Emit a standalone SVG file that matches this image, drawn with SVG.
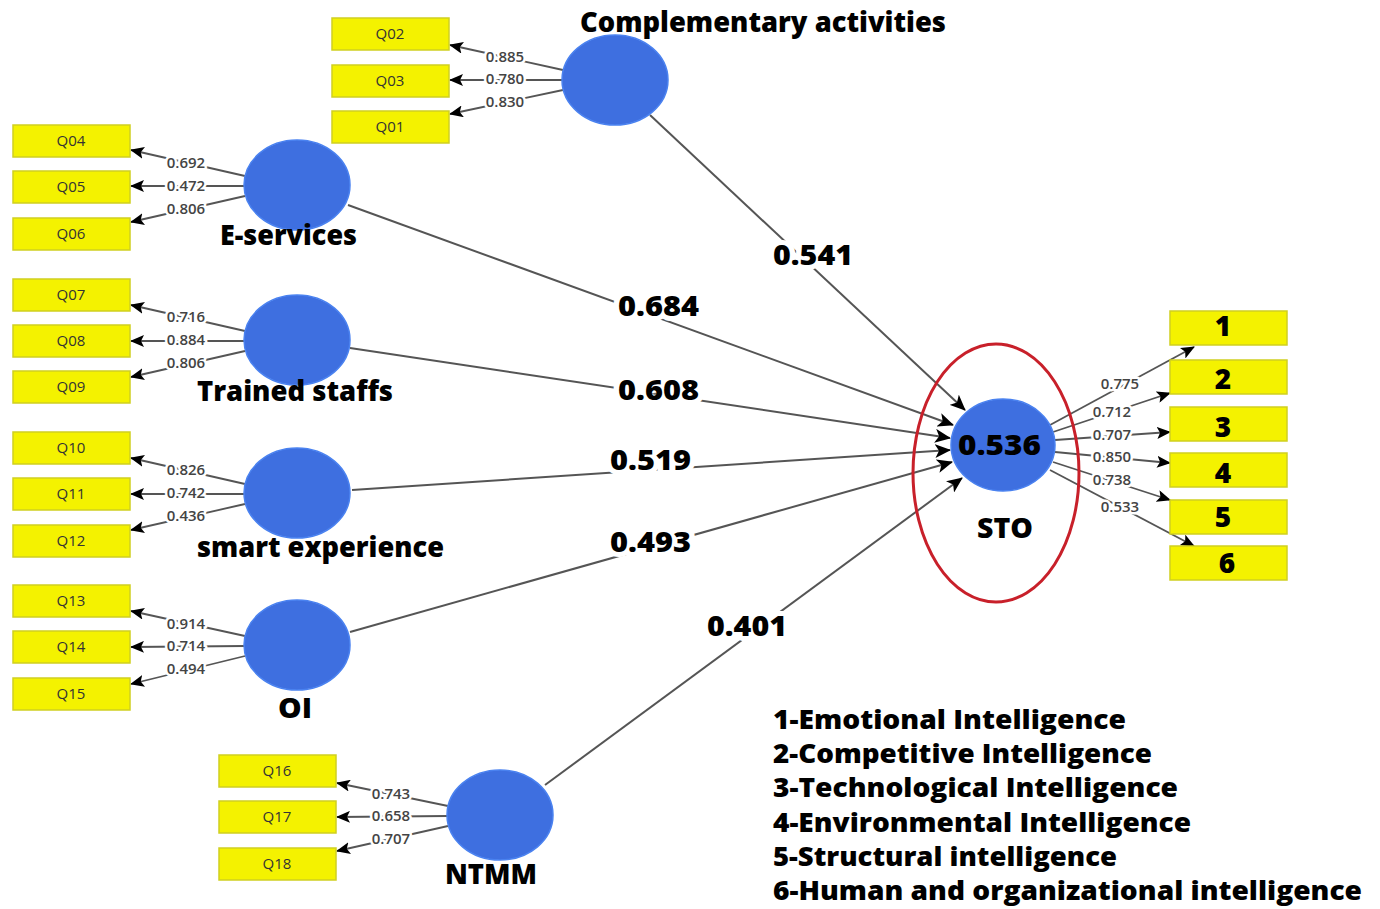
<svg xmlns="http://www.w3.org/2000/svg" width="1380" height="909" viewBox="0 0 1380 909">
<defs>
<marker id="ah" markerWidth="16" markerHeight="14" refX="15" refY="7" orient="auto" markerUnits="userSpaceOnUse">
<path d="M0,0 L16,7 L0,14 L4,7 Z" fill="#000"/>
</marker>
<marker id="sa" markerWidth="14" markerHeight="12" refX="13" refY="6" orient="auto" markerUnits="userSpaceOnUse">
<path d="M0,0 L14,6 L0,12 L3,6 Z" fill="#000"/>
</marker>
</defs>
<style>
.box{fill:#f4f200;stroke:#cfcf20;stroke-width:1.5}
.bl{font-family:"Open Sans","DejaVu Sans",sans-serif;font-size:15px;fill:#333;text-anchor:middle}
.lv{fill:#3e6fe0;stroke:#4a82f0;stroke-width:1.5}
.ld{stroke:#555;stroke-width:1.8;fill:none;marker-end:url(#sa)}
.pl{stroke:#555;stroke-width:2;fill:none;marker-end:url(#ah)}
.lt{font-family:"Open Sans","DejaVu Sans",sans-serif;font-size:15px;font-weight:600;fill:#444;text-anchor:middle;stroke:#fff;stroke-width:5;paint-order:stroke;stroke-linejoin:round}
.big{font-family:"Open Sans","DejaVu Sans",sans-serif;font-weight:800;font-size:28px;fill:#000}
.leg{font-family:"Open Sans","DejaVu Sans",sans-serif;font-weight:800;font-size:26px;fill:#000}
.pv{font-family:"Open Sans","DejaVu Sans",sans-serif;font-weight:800;font-size:28px;fill:#000;stroke:#fff;stroke-width:10;paint-order:stroke;stroke-linejoin:round}
.num{font-family:"Open Sans","DejaVu Sans",sans-serif;font-weight:800;font-size:28px;fill:#000;text-anchor:middle}
</style>
<rect width="1380" height="909" fill="#fff"/>

<g id="connectors">
<line class="pl" x1="650" y1="115" x2="965" y2="410"/>
<line class="pl" x1="348" y1="205" x2="953" y2="425"/>
<line class="pl" x1="350" y1="348" x2="950" y2="438"/>
<line class="pl" x1="352" y1="490" x2="950" y2="450"/>
<line class="pl" x1="350" y1="632" x2="952" y2="462"/>
<line class="pl" x1="545" y1="785" x2="962" y2="478"/>
<line class="ld" x1="563" y1="70" x2="450" y2="45"/>
<line class="ld" x1="563" y1="80" x2="450" y2="80"/>
<line class="ld" x1="563" y1="90" x2="450" y2="114"/>
<line class="ld" x1="245" y1="176" x2="131" y2="150"/>
<line class="ld" x1="245" y1="186" x2="131" y2="186"/>
<line class="ld" x1="245" y1="196" x2="131" y2="222"/>
<line class="ld" x1="245" y1="331" x2="131" y2="305"/>
<line class="ld" x1="245" y1="341" x2="131" y2="341"/>
<line class="ld" x1="245" y1="351" x2="131" y2="377"/>
<line class="ld" x1="245" y1="484" x2="131" y2="458"/>
<line class="ld" x1="245" y1="494" x2="131" y2="494"/>
<line class="ld" x1="245" y1="504" x2="131" y2="530"/>
<line class="ld" x1="245" y1="636" x2="131" y2="611"/>
<line class="ld" x1="245" y1="646" x2="131" y2="647"/>
<line class="ld" x1="245" y1="656" x2="131" y2="684"/>
<line class="ld" x1="448" y1="806" x2="337" y2="783"/>
<line class="ld" x1="448" y1="816" x2="337" y2="817"/>
<line class="ld" x1="448" y1="826" x2="337" y2="851"/>
<line class="ld" x1="1050" y1="425" x2="1194" y2="347"/>
<line class="ld" x1="1053" y1="432" x2="1170" y2="393"/>
<line class="ld" x1="1055" y1="440" x2="1170" y2="432"/>
<line class="ld" x1="1055" y1="452" x2="1170" y2="463"/>
<line class="ld" x1="1053" y1="462" x2="1170" y2="500"/>
<line class="ld" x1="1050" y1="470" x2="1194" y2="546"/>
</g>

<g id="loadings">
<text class="lt" x="505" y="62">0.885</text>
<text class="lt" x="505" y="84">0.780</text>
<text class="lt" x="505" y="107">0.830</text>
<text class="lt" x="186" y="168">0.692</text>
<text class="lt" x="186" y="191">0.472</text>
<text class="lt" x="186" y="214">0.806</text>
<text class="lt" x="186" y="322">0.716</text>
<text class="lt" x="186" y="345">0.884</text>
<text class="lt" x="186" y="368">0.806</text>
<text class="lt" x="186" y="475">0.826</text>
<text class="lt" x="186" y="498">0.742</text>
<text class="lt" x="186" y="521">0.436</text>
<text class="lt" x="186" y="629">0.914</text>
<text class="lt" x="186" y="651">0.714</text>
<text class="lt" x="186" y="674">0.494</text>
<text class="lt" x="391" y="799">0.743</text>
<text class="lt" x="391" y="821">0.658</text>
<text class="lt" x="391" y="844">0.707</text>
<text class="lt" x="1120" y="389">0.775</text>
<text class="lt" x="1112" y="417">0.712</text>
<text class="lt" x="1112" y="440">0.707</text>
<text class="lt" x="1112" y="462">0.850</text>
<text class="lt" x="1112" y="485">0.738</text>
<text class="lt" x="1120" y="512">0.533</text>
</g>

<g id="path-values">
<text class="pv" x="773" y="265" textLength="80" lengthAdjust="spacingAndGlyphs">0.541</text>
<text class="pv" x="618" y="316" textLength="81" lengthAdjust="spacingAndGlyphs">0.684</text>
<text class="pv" x="618" y="400" textLength="81" lengthAdjust="spacingAndGlyphs">0.608</text>
<text class="pv" x="610" y="470" textLength="81" lengthAdjust="spacingAndGlyphs">0.519</text>
<text class="pv" x="610" y="552" textLength="81" lengthAdjust="spacingAndGlyphs">0.493</text>
<text class="pv" x="707" y="636" textLength="80" lengthAdjust="spacingAndGlyphs">0.401</text>
</g>

<g id="node-complementary">
<rect class="box" x="332" y="18" width="117" height="32"/><text class="bl" x="390" y="39">Q02</text>
<rect class="box" x="332" y="65" width="117" height="32"/><text class="bl" x="390" y="86">Q03</text>
<rect class="box" x="332" y="111" width="117" height="32"/><text class="bl" x="390" y="132">Q01</text>
<ellipse class="lv" cx="615" cy="80" rx="53" ry="45"/>
<text class="big" x="580" y="32" textLength="366" lengthAdjust="spacingAndGlyphs">Complementary activities</text>
</g>

<g id="node-eservices">
<rect class="box" x="13" y="125" width="117" height="32"/><text class="bl" x="71" y="146">Q04</text>
<rect class="box" x="13" y="171" width="117" height="32"/><text class="bl" x="71" y="192">Q05</text>
<rect class="box" x="13" y="218" width="117" height="32"/><text class="bl" x="71" y="239">Q06</text>
<ellipse class="lv" cx="297" cy="185" rx="53" ry="45"/>
<text class="big" x="220" y="245" textLength="137" lengthAdjust="spacingAndGlyphs">E-services</text>
</g>

<g id="node-trained">
<rect class="box" x="13" y="279" width="117" height="32"/><text class="bl" x="71" y="300">Q07</text>
<rect class="box" x="13" y="325" width="117" height="32"/><text class="bl" x="71" y="346">Q08</text>
<rect class="box" x="13" y="371" width="117" height="32"/><text class="bl" x="71" y="392">Q09</text>
<ellipse class="lv" cx="297" cy="340" rx="53" ry="45"/>
<text class="big" x="197" y="401" textLength="196" lengthAdjust="spacingAndGlyphs">Trained staffs</text>
</g>

<g id="node-smart">
<rect class="box" x="13" y="432" width="117" height="32"/><text class="bl" x="71" y="453">Q10</text>
<rect class="box" x="13" y="478" width="117" height="32"/><text class="bl" x="71" y="499">Q11</text>
<rect class="box" x="13" y="525" width="117" height="32"/><text class="bl" x="71" y="546">Q12</text>
<ellipse class="lv" cx="297" cy="493" rx="53" ry="45"/>
<text class="big" x="197" y="557" textLength="247" lengthAdjust="spacingAndGlyphs">smart experience</text>
</g>

<g id="node-oi">
<rect class="box" x="13" y="585" width="117" height="32"/><text class="bl" x="71" y="606">Q13</text>
<rect class="box" x="13" y="631" width="117" height="32"/><text class="bl" x="71" y="652">Q14</text>
<rect class="box" x="13" y="678" width="117" height="32"/><text class="bl" x="71" y="699">Q15</text>
<ellipse class="lv" cx="297" cy="645" rx="53" ry="45"/>
<text class="big" x="278" y="718" textLength="34" lengthAdjust="spacingAndGlyphs">OI</text>
</g>

<g id="node-ntmm">
<rect class="box" x="219" y="755" width="117" height="32"/><text class="bl" x="277" y="776">Q16</text>
<rect class="box" x="219" y="801" width="117" height="32"/><text class="bl" x="277" y="822">Q17</text>
<rect class="box" x="219" y="848" width="117" height="32"/><text class="bl" x="277" y="869">Q18</text>
<ellipse class="lv" cx="500" cy="815" rx="53" ry="45"/>
<text class="big" x="445" y="884" textLength="92" lengthAdjust="spacingAndGlyphs">NTMM</text>
</g>

<g id="node-sto">
<ellipse cx="996" cy="473" rx="83" ry="129" fill="none" stroke="#c8202a" stroke-width="3"/>
<ellipse class="lv" cx="1003" cy="445" rx="52" ry="46"/>
<text class="big" x="958" y="455" textLength="83" lengthAdjust="spacingAndGlyphs">0.536</text>
<text class="big" x="977" y="538" textLength="56" lengthAdjust="spacingAndGlyphs">STO</text>
</g>

<g id="node-indicators">
<rect class="box" x="1170" y="311" width="117" height="34"/><text class="num" x="1223" y="336">1</text>
<rect class="box" x="1170" y="360" width="117" height="34"/><text class="num" x="1223" y="389">2</text>
<rect class="box" x="1170" y="407" width="117" height="34"/><text class="num" x="1223" y="437">3</text>
<rect class="box" x="1170" y="453" width="117" height="34"/><text class="num" x="1223" y="483">4</text>
<rect class="box" x="1170" y="500" width="117" height="34"/><text class="num" x="1223" y="527">5</text>
<rect class="box" x="1170" y="546" width="117" height="34"/><text class="num" x="1227" y="573">6</text>
</g>

<g id="legend">
<text class="leg" x="773" y="729" textLength="353" lengthAdjust="spacingAndGlyphs">1-Emotional Intelligence</text>
<text class="leg" x="773" y="763" textLength="379" lengthAdjust="spacingAndGlyphs">2-Competitive Intelligence</text>
<text class="leg" x="773" y="797" textLength="405" lengthAdjust="spacingAndGlyphs">3-Technological Intelligence</text>
<text class="leg" x="773" y="832" textLength="418" lengthAdjust="spacingAndGlyphs">4-Environmental Intelligence</text>
<text class="leg" x="773" y="866" textLength="344" lengthAdjust="spacingAndGlyphs">5-Structural intelligence</text>
<text class="leg" x="773" y="900" textLength="589" lengthAdjust="spacingAndGlyphs">6-Human and organizational intelligence</text>
</g>
</svg>
